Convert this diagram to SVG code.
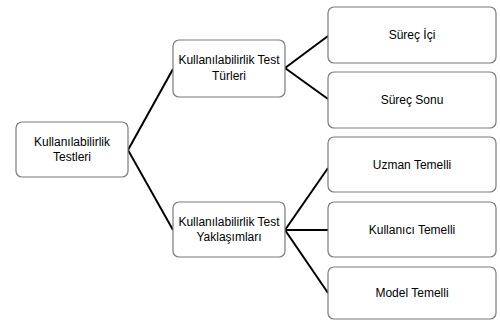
<svg xmlns="http://www.w3.org/2000/svg" width="500" height="320" viewBox="0 0 500 320">
<style>
.box{fill:#ffffff;stroke:#7a7a7a;stroke-width:1.2}
.t{font-family:"Liberation Sans",Arial,sans-serif;font-size:12px;fill:#000;text-anchor:middle}
.c{stroke:#000;stroke-width:2;fill:none}
</style>
<rect width="500" height="320" fill="#ffffff"/>
<g id="connectors">
<path class="c" d="M128,150 L173,69"/>
<path class="c" d="M128,150 L173,230"/>
<path class="c" d="M285,68 L328,36"/>
<path class="c" d="M285,68 L328,99"/>
<path class="c" d="M285,230 L328,168"/>
<path class="c" d="M285,230 L328,230"/>
<path class="c" d="M285,230 L328,293"/>
</g>
<g id="root">
<rect class="box" x="16" y="122" width="112" height="55" rx="6"/>
<text class="t" x="72" y="146">Kullanılabilirlik</text>
<text class="t" x="72" y="161">Testleri</text>
</g>
<g id="types">
<rect class="box" x="173" y="40" width="112" height="57" rx="6"/>
<text class="t" x="229" y="64">Kullanılabilirlik Test</text>
<text class="t" x="229" y="80">Türleri</text>
</g>
<g id="approaches">
<rect class="box" x="173" y="202" width="112" height="55" rx="6"/>
<text class="t" x="229" y="226">Kullanılabilirlik Test</text>
<text class="t" x="229" y="241">Yaklaşımları</text>
</g>
<g id="surec-ici">
<rect class="box" x="328" y="7" width="168" height="56" rx="6"/>
<text class="t" x="412" y="39">Süreç İçi</text>
</g>
<g id="surec-sonu">
<rect class="box" x="328" y="72" width="168" height="56" rx="6"/>
<text class="t" x="412" y="104">Süreç Sonu</text>
</g>
<g id="uzman">
<rect class="box" x="328" y="137" width="168" height="55" rx="6"/>
<text class="t" x="412" y="169">Uzman Temelli</text>
</g>
<g id="kullanici">
<rect class="box" x="328" y="202" width="168" height="55" rx="6"/>
<text class="t" x="412" y="234">Kullanıcı Temelli</text>
</g>
<g id="model">
<rect class="box" x="328" y="267" width="168" height="52" rx="6"/>
<text class="t" x="412" y="297">Model Temelli</text>
</g>
</svg>
